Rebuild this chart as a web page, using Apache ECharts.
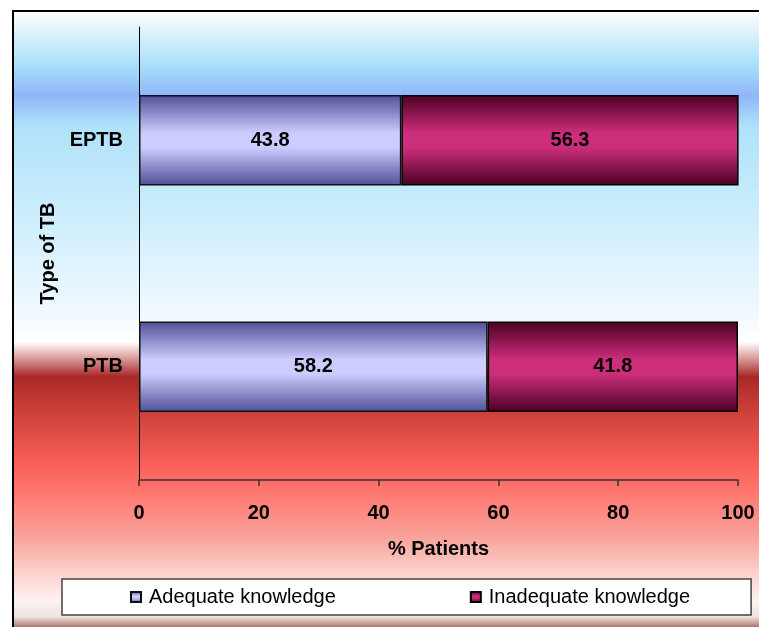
<!DOCTYPE html>
<html>
<head>
<meta charset="utf-8">
<script src="https://cdn.jsdelivr.net/npm/echarts@6/dist/echarts.min.js"></script>
<style>
  html, body { margin: 0; padding: 0; background: #fff; }
  #chart { width: 759px; height: 627px; }
</style>
</head>
<body>
<div id="chart"></div>
<script>
// Knowledge level by type of tuberculosis (% of patients)
const categories = ['PTB', 'EPTB'];
const seriesNames = ['Adequate knowledge', 'Inadequate knowledge'];
const adequate = [58.2, 43.8];
const inadequate = [41.8, 56.3];
const xTicks = { min: 0, max: 100, interval: 20 };

const FONT = 'Arial, "Liberation Sans", sans-serif';

function barGradient(edge, mid) {
  return new echarts.graphic.LinearGradient(0, 0, 0, 1, [
    { offset: 0, color: edge },
    { offset: 0.42, color: mid },
    { offset: 0.58, color: mid },
    { offset: 1, color: edge }
  ]);
}

// Framed panel with blue-to-red vertical wash
const panelFill = new echarts.graphic.LinearGradient(0, 0, 0, 1, [
  { offset: 0.000, color: '#ffffff' },
  { offset: 0.040, color: '#d8f0fc' },
  { offset: 0.087, color: '#a8e0fa' },
  { offset: 0.135, color: '#90b6f8' },
  { offset: 0.185, color: '#b0e2fa' },
  { offset: 0.305, color: '#c8ecfc' },
  { offset: 0.470, color: '#eef8ff' },
  { offset: 0.525, color: '#ffffff' },
  { offset: 0.545, color: '#e4b4b2' },
  { offset: 0.580, color: '#a82828' },
  { offset: 0.635, color: '#cc4038' },
  { offset: 0.715, color: '#f85e56' },
  { offset: 0.765, color: '#ff7870' },
  { offset: 0.830, color: '#f8a098' },
  { offset: 0.890, color: '#fcd0cc' },
  { offset: 0.935, color: '#fff2f2' },
  { offset: 0.960, color: '#eee4e2' },
  { offset: 0.980, color: '#a06050' },
  { offset: 1.000, color: '#7c3c30' }
]);

const chart = echarts.init(document.getElementById('chart'), null, { renderer: 'canvas' });

chart.setOption({
  backgroundColor: '#ffffff',
  animation: false,
  textStyle: { fontFamily: FONT },
  graphic: [{
    type: 'rect',
    z: -10,
    shape: { x: 13, y: 11, width: 760, height: 630 },
    style: { fill: panelFill, stroke: '#000000', lineWidth: 2 }
  }],
  grid: { left: 139, right: 21, top: 27, bottom: 147 },
  legend: {
    data: seriesNames,
    left: 62,
    top: 579,
    orient: 'horizontal',
    icon: 'rect',
    itemWidth: 10,
    itemHeight: 10,
    itemGap: 134,
    padding: [8, 61, 8, 68],
    backgroundColor: '#ffffff',
    borderColor: '#444444',
    borderWidth: 1.5,
    borderRadius: 0,
    textStyle: { color: '#000000', fontSize: 20, fontFamily: FONT, padding: [0, 0, 0, 3] }
  },
  xAxis: {
    type: 'value',
    min: xTicks.min,
    max: xTicks.max,
    interval: xTicks.interval,
    name: '% Patients',
    nameLocation: 'middle',
    nameGap: 59,
    nameTextStyle: { color: '#000000', fontSize: 20, fontWeight: 'bold', fontFamily: FONT },
    axisLine: { show: true, lineStyle: { color: '#333333', width: 1.5 } },
    axisTick: { show: true, length: 6, lineStyle: { color: '#333333', width: 1.5 } },
    axisLabel: { color: '#000000', fontSize: 20, fontWeight: 'bold', margin: 23, fontFamily: FONT },
    splitLine: { show: false }
  },
  yAxis: {
    type: 'category',
    data: categories,
    name: 'Type of TB',
    nameLocation: 'middle',
    nameGap: 80,
    nameTextStyle: { color: '#000000', fontSize: 20, fontWeight: 'bold', fontFamily: FONT },
    axisLine: { show: true, lineStyle: { color: '#000000', width: 1 } },
    axisTick: { show: false },
    axisLabel: { color: '#000000', fontSize: 20, fontWeight: 'bold', margin: 16, fontFamily: FONT },
    splitLine: { show: false }
  },
  series: [
    {
      name: seriesNames[0],
      type: 'bar',
      stack: 'total',
      barWidth: '40%',
      data: adequate,
      itemStyle: {
        color: barGradient('#4f4f96', '#ccccff'),
        borderColor: '#111111',
        borderWidth: 1.5
      },
      label: {
        show: true, position: 'inside', color: '#000000',
        fontSize: 20, fontWeight: 'bold', fontFamily: FONT,
        formatter: p => p.value.toFixed(1)
      }
    },
    {
      name: seriesNames[1],
      type: 'bar',
      stack: 'total',
      barWidth: '40%',
      data: inadequate,
      itemStyle: {
        color: barGradient('#4a0022', '#cc2e7c'),
        borderColor: '#000000',
        borderWidth: 1.5
      },
      label: {
        show: true, position: 'inside', color: '#000000',
        fontSize: 20, fontWeight: 'bold', fontFamily: FONT,
        formatter: p => p.value.toFixed(1)
      }
    }
  ]
});
</script>
</body>
</html>
